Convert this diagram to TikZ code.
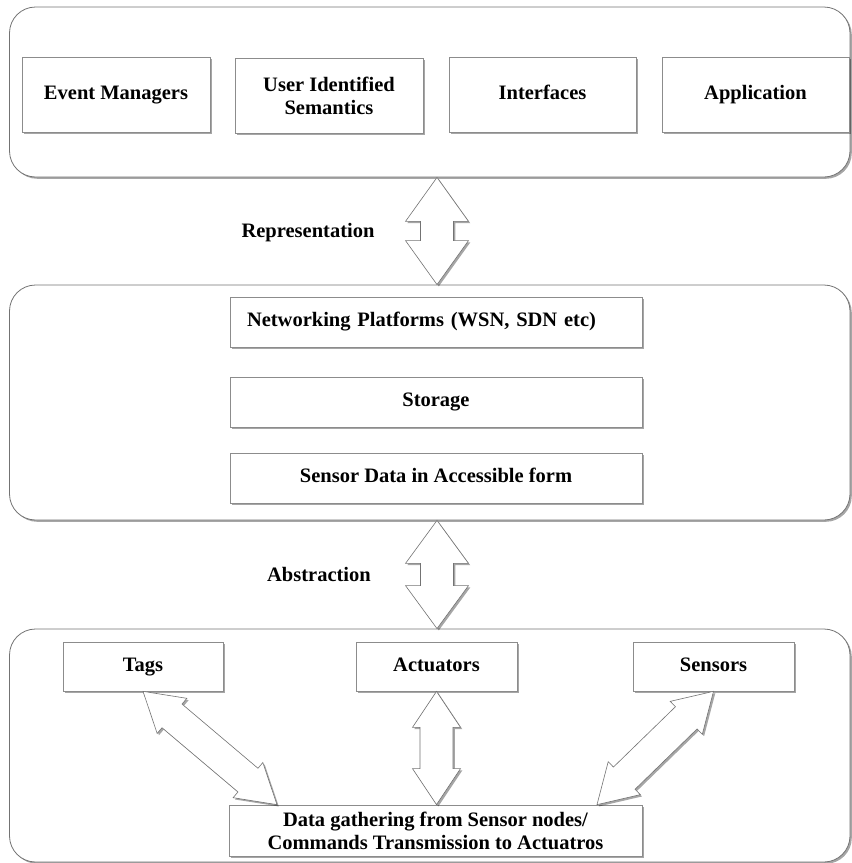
\documentclass[tikz,border=0pt]{standalone}
\usepackage{fontspec}
\setmainfont{Liberation Serif}
\usetikzlibrary{calc,shadows}

% Double-headed block arrow between two points:
% #1 first end, #2 second end, #3 head length, #4 head half-width, #5 shaft half-width
\newcommand\blockarrow[5]{%
  \draw[fatarrow]
    (#1)
    -- ($(#1)!#3pt!(#2)!#4pt!90:(#2)$)
    -- ($(#1)!#3pt!(#2)!#5pt!90:(#2)$)
    -- ($(#2)!#3pt!(#1)!#5pt!-90:(#1)$)
    -- ($(#2)!#3pt!(#1)!#4pt!-90:(#1)$)
    -- (#2)
    -- ($(#2)!#3pt!(#1)!#4pt!90:(#1)$)
    -- ($(#2)!#3pt!(#1)!#5pt!90:(#1)$)
    -- ($(#1)!#3pt!(#2)!#5pt!-90:(#2)$)
    -- ($(#1)!#3pt!(#2)!#4pt!-90:(#2)$)
    -- cycle;}

\tikzset{
  shade/.style={drop shadow={shadow xshift=1.8pt, shadow yshift=-1.8pt, fill=black, opacity=0.35}},
  layer/.style={draw=black!55, line width=0.8pt, fill=white, rounded corners=26pt,
    inner sep=0pt, shade},
  item/.style={draw=black!45, line width=0.7pt, fill=white, inner sep=0pt, align=center,
    shade, font=\bfseries\fontsize{20.5}{23}\selectfont},
  oneline/.style={item, text height=14pt, text depth=4.5pt},
  label/.style={inner sep=0pt, font=\bfseries\fontsize{20.5}{23}\selectfont},
  fatarrow/.style={draw=black!55, line width=0.6pt, fill=white, line join=miter, shade},
}

\begin{document}
\begin{tikzpicture}[x=1pt, y=-1pt]
\useasboundingbox (0,0) rectangle (852,863);

% three layers
\node[layer, minimum width=840.5pt, minimum height=170pt] (top) at (429.75,92) {};
\node[layer, minimum width=840.5pt, minimum height=235pt] (mid) at (429.75,402.5) {};
\node[layer, minimum width=840.5pt, minimum height=233pt] (bot) at (429.75,745.5) {};

% application layer
\node[oneline, minimum width=188pt, minimum height=75pt] (evt) at (116,94.5) {Event Managers};
\node[item, minimum width=188pt, minimum height=75pt] (sem) at (329,95.5) {User Identified\\Semantics};
\node[oneline, minimum width=187pt, minimum height=75pt] (ifc) at (542.5,94.5) {Interfaces};
\node[oneline, minimum width=187pt, minimum height=75pt] (app) at (755.5,94.5) {Application};

% middle layer
\node[oneline, minimum width=412pt, minimum height=50pt, text width=378pt, inner xsep=17pt,
      align=left] (net) at (436,322) {Networking Platforms (WSN, SDN etc)};
\node[oneline, minimum width=412pt, minimum height=50pt] (sto) at (436,402) {Storage};
\node[oneline, minimum width=412pt, minimum height=50pt] (sda) at (436,478) {Sensor Data in Accessible form};

% device layer
\node[oneline, minimum width=160pt, minimum height=49pt] (tags) at (143,666.5) {Tags};
\node[oneline, minimum width=161pt, minimum height=49pt] (act) at (436.5,666.5) {Actuators};
\node[oneline, minimum width=161pt, minimum height=49pt] (sen) at (713.5,666.5) {Sensors};
\node[item, minimum width=413pt, minimum height=51pt] (data) at (435.5,830.5)
  {Data gathering from Sensor nodes/\\Commands Transmission to Actuatros};

% labels between layers
\node[label] (rep) at (308,233) {Representation};
\node[label] (abs) at (319,574) {Abstraction};

% arrow end points
\coordinate (axis) at (437,0);
\coordinate (r1) at (axis |- top.south);
\coordinate (r2) at (axis |- mid.north);
\coordinate (a1) at (axis |- mid.south);
\coordinate (a2) at (axis |- bot.north);
\coordinate (tx) at (277,0);
\coordinate (sx) at (597,0);
\coordinate (dT) at (tx |- data.north);
\coordinate (dS) at (sx |- data.north);
\coordinate (dA) at (act.south |- data.north);

% block arrows
\blockarrow{r1}{r2}{44}{31.5}{16.5}
\blockarrow{a1}{a2}{43}{31.5}{16.5}
\blockarrow{tags.south}{dT}{38}{23}{15.5}
\blockarrow{act.south}{dA}{36}{24}{16.5}
\blockarrow{sen.south}{dS}{38}{23}{15.5}
\end{tikzpicture}
\end{document}
